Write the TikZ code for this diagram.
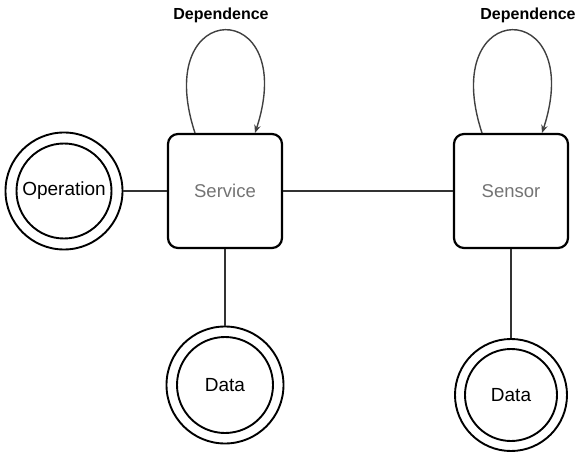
\documentclass[tikz,border=0pt]{standalone}
\usepackage{fontspec}
\setmainfont{Liberation Sans}
\usetikzlibrary{arrows.meta}
\begin{document}
\begin{tikzpicture}[x=1pt,y=-1pt,
  entity/.style={draw=black,line width=2.2pt,rounded corners=10pt,
    minimum width=114pt,minimum height=114pt,inner sep=0pt,
    text=black!55,font=\fontsize{18.5}{20}\selectfont},
  outerring/.style={draw=black,line width=1.9pt,circle,inner sep=0pt},
  innerring/.style={draw=black,line width=1.9pt,circle,inner sep=0pt,
    font=\fontsize{19}{21}\selectfont},
  link/.style={draw=black!80,line width=1.1pt},
  selfloop/.style={draw=black!75,line width=1.4pt,
    -{Stealth[length=8pt,width=6.5pt]}},
  looplabel/.style={font=\bfseries\fontsize{16}{18}\selectfont}]
\useasboundingbox (0,0) rectangle (578,457);

% main entities
\node[entity] (svc) at (225,191) {Service};
\node[entity] (sen) at (511,191) {Sensor};

% double-ringed attribute circles
\node[outerring,minimum size=117pt] (opo) at (64,191) {};
\node[innerring,minimum size=95pt] (op) at (64,191) {Operation};
\node[outerring,minimum size=117pt] (d1o) at (225,385) {};
\node[innerring,minimum size=96pt] (d1) at (225,385) {Data};
\node[outerring,minimum size=112pt] (d2o) at (511,395) {};
\node[innerring,minimum size=92pt] (d2) at (511,395) {Data};

% connections
\draw[link] (opo) -- (svc);
\draw[link] (svc) -- (sen);
\draw[link] (svc) -- (d1o);
\draw[link] (sen) -- (d2o);

% self dependence loops
\coordinate (s1) at (195,133);
\coordinate (e1) at (255,133);
\coordinate (s2) at (482,133);
\coordinate (e2) at (542,133);
\draw[selfloop] (s1) .. controls (150,-4) and (300,-4) .. (e1);
\draw[selfloop] (s2) .. controls (437,-4) and (587,-4) .. (e2);
\node[looplabel] (l1) at (221,15) {Dependence};
\node[looplabel] (l2) at (528,15) {Dependence};
\end{tikzpicture}
\end{document}
